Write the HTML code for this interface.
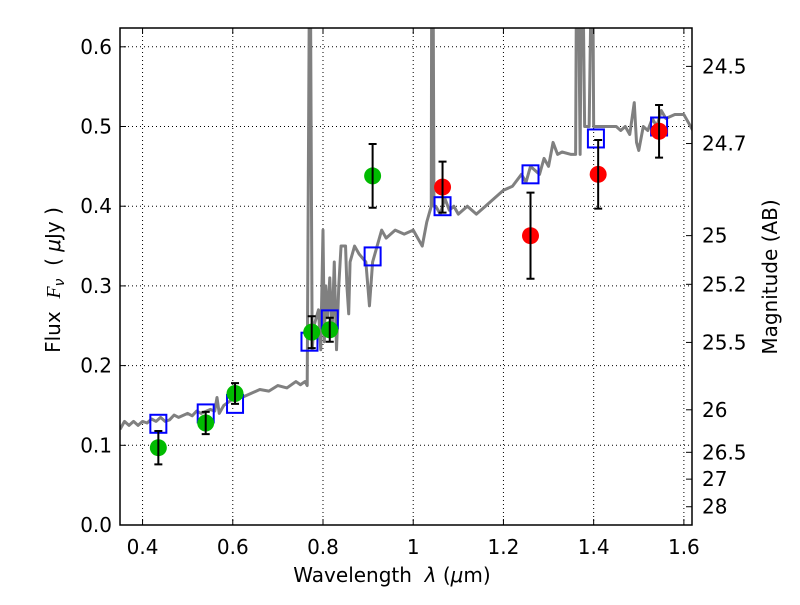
<!DOCTYPE html>
<html><head><meta charset="utf-8"><style>
body{margin:0;background:#fff}
svg text{font-family:"DejaVu Sans","Liberation Sans",sans-serif;fill:#000}
</style></head><body>
<svg id="chart" width="800" height="600">
<g id="grid"></g><g id="marks"></g><g id="axes"></g>
</svg>
<script>
const xTicks=[0.4,0.6,0.8,1.0,1.2,1.4,1.6];
const xTickLabels=["0.4","0.6","0.8","1","1.2","1.4","1.6"];
const yTicks=[0,0.1,0.2,0.3,0.4,0.5,0.6];
const yTickLabels=["0.0","0.1","0.2","0.3","0.4","0.5","0.6"];
const magTicks=[24.5,24.7,25,25.2,25.5,26,26.5,27,28];
const magLabels=["24.5","24.7","25","25.2","25.5","26","26.5","27","28"];
const specX=[0.35,0.36,0.37,0.38,0.39,0.4,0.41,0.42,0.43,0.44,0.45,0.46,0.47,0.48,0.5,0.51,0.52,0.53,0.55,0.56,0.565,0.57,0.58,0.6,0.62,0.64,0.66,0.68,0.7,0.72,0.74,0.75,0.76,0.765,0.77,0.772,0.776,0.78,0.79,0.795,0.80,0.803,0.806,0.81,0.815,0.82,0.825,0.83,0.835,0.84,0.85,0.853,0.857,0.86,0.87,0.88,0.895,0.903,0.91,0.92,0.93,0.94,0.96,0.98,1.0,1.01,1.02,1.03,1.04,1.041,1.044,1.046,1.05,1.06,1.07,1.08,1.09,1.1,1.12,1.14,1.16,1.18,1.2,1.22,1.24,1.25,1.26,1.28,1.29,1.3,1.31,1.32,1.33,1.35,1.36,1.362,1.366,1.37,1.373,1.376,1.38,1.39,1.395,1.398,1.4,1.42,1.45,1.46,1.47,1.48,1.49,1.495,1.5,1.51,1.52,1.53,1.54,1.55,1.56,1.58,1.6,1.62];
const specY=[0.12,0.13,0.125,0.13,0.125,0.13,0.128,0.133,0.13,0.135,0.13,0.132,0.138,0.135,0.14,0.137,0.143,0.14,0.145,0.143,0.16,0.14,0.15,0.158,0.16,0.165,0.17,0.168,0.175,0.172,0.18,0.176,0.18,0.175,0.7,0.7,0.22,0.25,0.27,0.22,0.37,0.23,0.3,0.26,0.31,0.24,0.33,0.22,0.3,0.35,0.35,0.3,0.265,0.33,0.35,0.34,0.33,0.275,0.33,0.35,0.37,0.36,0.37,0.365,0.37,0.36,0.35,0.38,0.4,0.7,0.7,0.4,0.4,0.39,0.41,0.395,0.4,0.39,0.4,0.39,0.4,0.41,0.42,0.425,0.44,0.43,0.45,0.44,0.46,0.45,0.48,0.465,0.468,0.465,0.465,0.7,0.7,0.465,0.7,0.7,0.5,0.5,0.7,0.7,0.5,0.5,0.5,0.495,0.5,0.49,0.53,0.48,0.47,0.5,0.495,0.51,0.5,0.52,0.51,0.515,0.515,0.495,0.495];
const greenX=[0.435,0.54,0.605,0.775,0.815,0.91];
const greenY=[0.097,0.128,0.165,0.242,0.245,0.438];
const greenErr=[0.021,0.014,0.013,0.02,0.015,0.04];
const redX=[1.065,1.26,1.41,1.545];
const redY=[0.424,0.363,0.44,0.494];
const redErr=[0.032,0.054,0.043,0.033];
const boxX=[0.435,0.54,0.605,0.77,0.815,0.91,1.065,1.26,1.405,1.545];
const boxY=[0.127,0.14,0.152,0.23,0.258,0.337,0.4,0.44,0.485,0.5];

const L=120,R=692,T=28,B=525,X0=0.35,X1=1.618,Y0=0,Y1=0.6236;
const sx=v=>L+(v-X0)/(X1-X0)*(R-L);
const sy=v=>B-(v-Y0)/(Y1-Y0)*(B-T);
const NS="http://www.w3.org/2000/svg";
function mk(tag,parent,attrs){const e=document.createElementNS(NS,tag);for(const k in attrs)e.setAttribute(k,attrs[k]);document.getElementById(parent).appendChild(e);return e;}
xTicks.forEach(t=>{const e=mk('line','grid',{x1:sx(t),x2:sx(t),y1:T,y2:B,stroke:'#000','stroke-width':1,'stroke-dasharray':'1,3'});

});
yTicks.forEach(t=>{const e=mk('line','grid',{x1:L,x2:R,y1:sy(t),y2:sy(t),stroke:'#000','stroke-width':1,'stroke-dasharray':'1,3'});

});
const defs=mk('defs','chart',{});
const cp=document.createElementNS(NS,'clipPath');cp.setAttribute('id','cp');defs.appendChild(cp);
const cr=document.createElementNS(NS,'rect');cr.setAttribute('x',L);cr.setAttribute('y',T);cr.setAttribute('width',R-L);cr.setAttribute('height',B-T);cp.appendChild(cr);
document.getElementById('marks').setAttribute('clip-path','url(#cp)');
const sp=mk('polyline','marks',{points:specX.map((x,i)=>sx(x)+','+sy(specY[i])).join(' '),fill:'none',stroke:'#808080','stroke-width':3,'stroke-linejoin':'round'});


boxX.forEach((x,i)=>{const e=mk('rect','marks',{x:sx(x)-8,y:sy(boxY[i])-9,width:16,height:18,fill:'none',stroke:'#0000ff','stroke-width':2});

});
function pts(X,Y,E,col,name){
X.forEach((x,i)=>{const c=mk('circle','marks',{cx:sx(x),cy:sy(Y[i]),r:8.5,fill:col});

});
X.forEach((x,i)=>{const g=mk('path','marks',{d:`M${sx(x)},${sy(Y[i]-E[i])}V${sy(Y[i]+E[i])}M${sx(x)-4},${sy(Y[i]-E[i])}h8M${sx(x)-4},${sy(Y[i]+E[i])}h8`,stroke:'#000','stroke-width':2,fill:'none'});

});
}
pts(greenX,greenY,greenErr,'#00bb00','green-observed');
pts(redX,redY,redErr,'#ff0000','red-observed');
const fr=mk('rect','axes',{x:L,y:T,width:R-L,height:B-T,fill:'none',stroke:'#000','stroke-width':1.5});


xTicks.forEach((t,i)=>{mk('line','axes',{x1:sx(t),x2:sx(t),y1:B,y2:B-6,stroke:'#000'});mk('line','axes',{x1:sx(t),x2:sx(t),y1:T,y2:T+6,stroke:'#000'});
const e=mk('text','axes',{x:sx(t),y:B+29,'text-anchor':'middle','font-size':20});e.textContent=xTickLabels[i];

});
yTicks.forEach((t,i)=>{mk('line','axes',{x1:L,x2:L+6,y1:sy(t),y2:sy(t),stroke:'#000'});
const e=mk('text','axes',{x:L-8,y:sy(t)+7,'text-anchor':'end','font-size':20});e.textContent=yTickLabels[i];

});
magTicks.forEach((m,i)=>{const f=Math.pow(10,(23.9-m)/2.5);const y=sy(f);
mk('line','axes',{x1:R,x2:R-6,y1:y,y2:y,stroke:'#000'});
const e=mk('text','axes',{x:R+10,y:y+7,'font-size':20});e.textContent=magLabels[i];

});
const xt=mk('text','axes',{x:392,y:582,'text-anchor':'middle','font-size':20});xt.innerHTML='Wavelength\u00a0\u00a0<tspan font-style="italic">λ</tspan> (<tspan font-style="italic">μ</tspan>m)';


const yt=mk('text','axes',{x:0,y:0,'text-anchor':'middle','font-size':20,transform:'translate(60,280) rotate(-90)'});yt.innerHTML='Flux\u00a0\u00a0<tspan font-style="italic" font-family="Liberation Serif">F</tspan><tspan font-size="14" font-style="italic" dy="4">ν</tspan><tspan dy="-4">\u00a0\u00a0(\u00a0<tspan font-style="italic">μ</tspan>Jy\u00a0)</tspan>';


const rt=mk('text','axes',{x:0,y:0,'text-anchor':'middle','font-size':20,transform:'translate(777,277) rotate(-90)'});rt.textContent='Magnitude (AB)';


</script>
</body></html>
